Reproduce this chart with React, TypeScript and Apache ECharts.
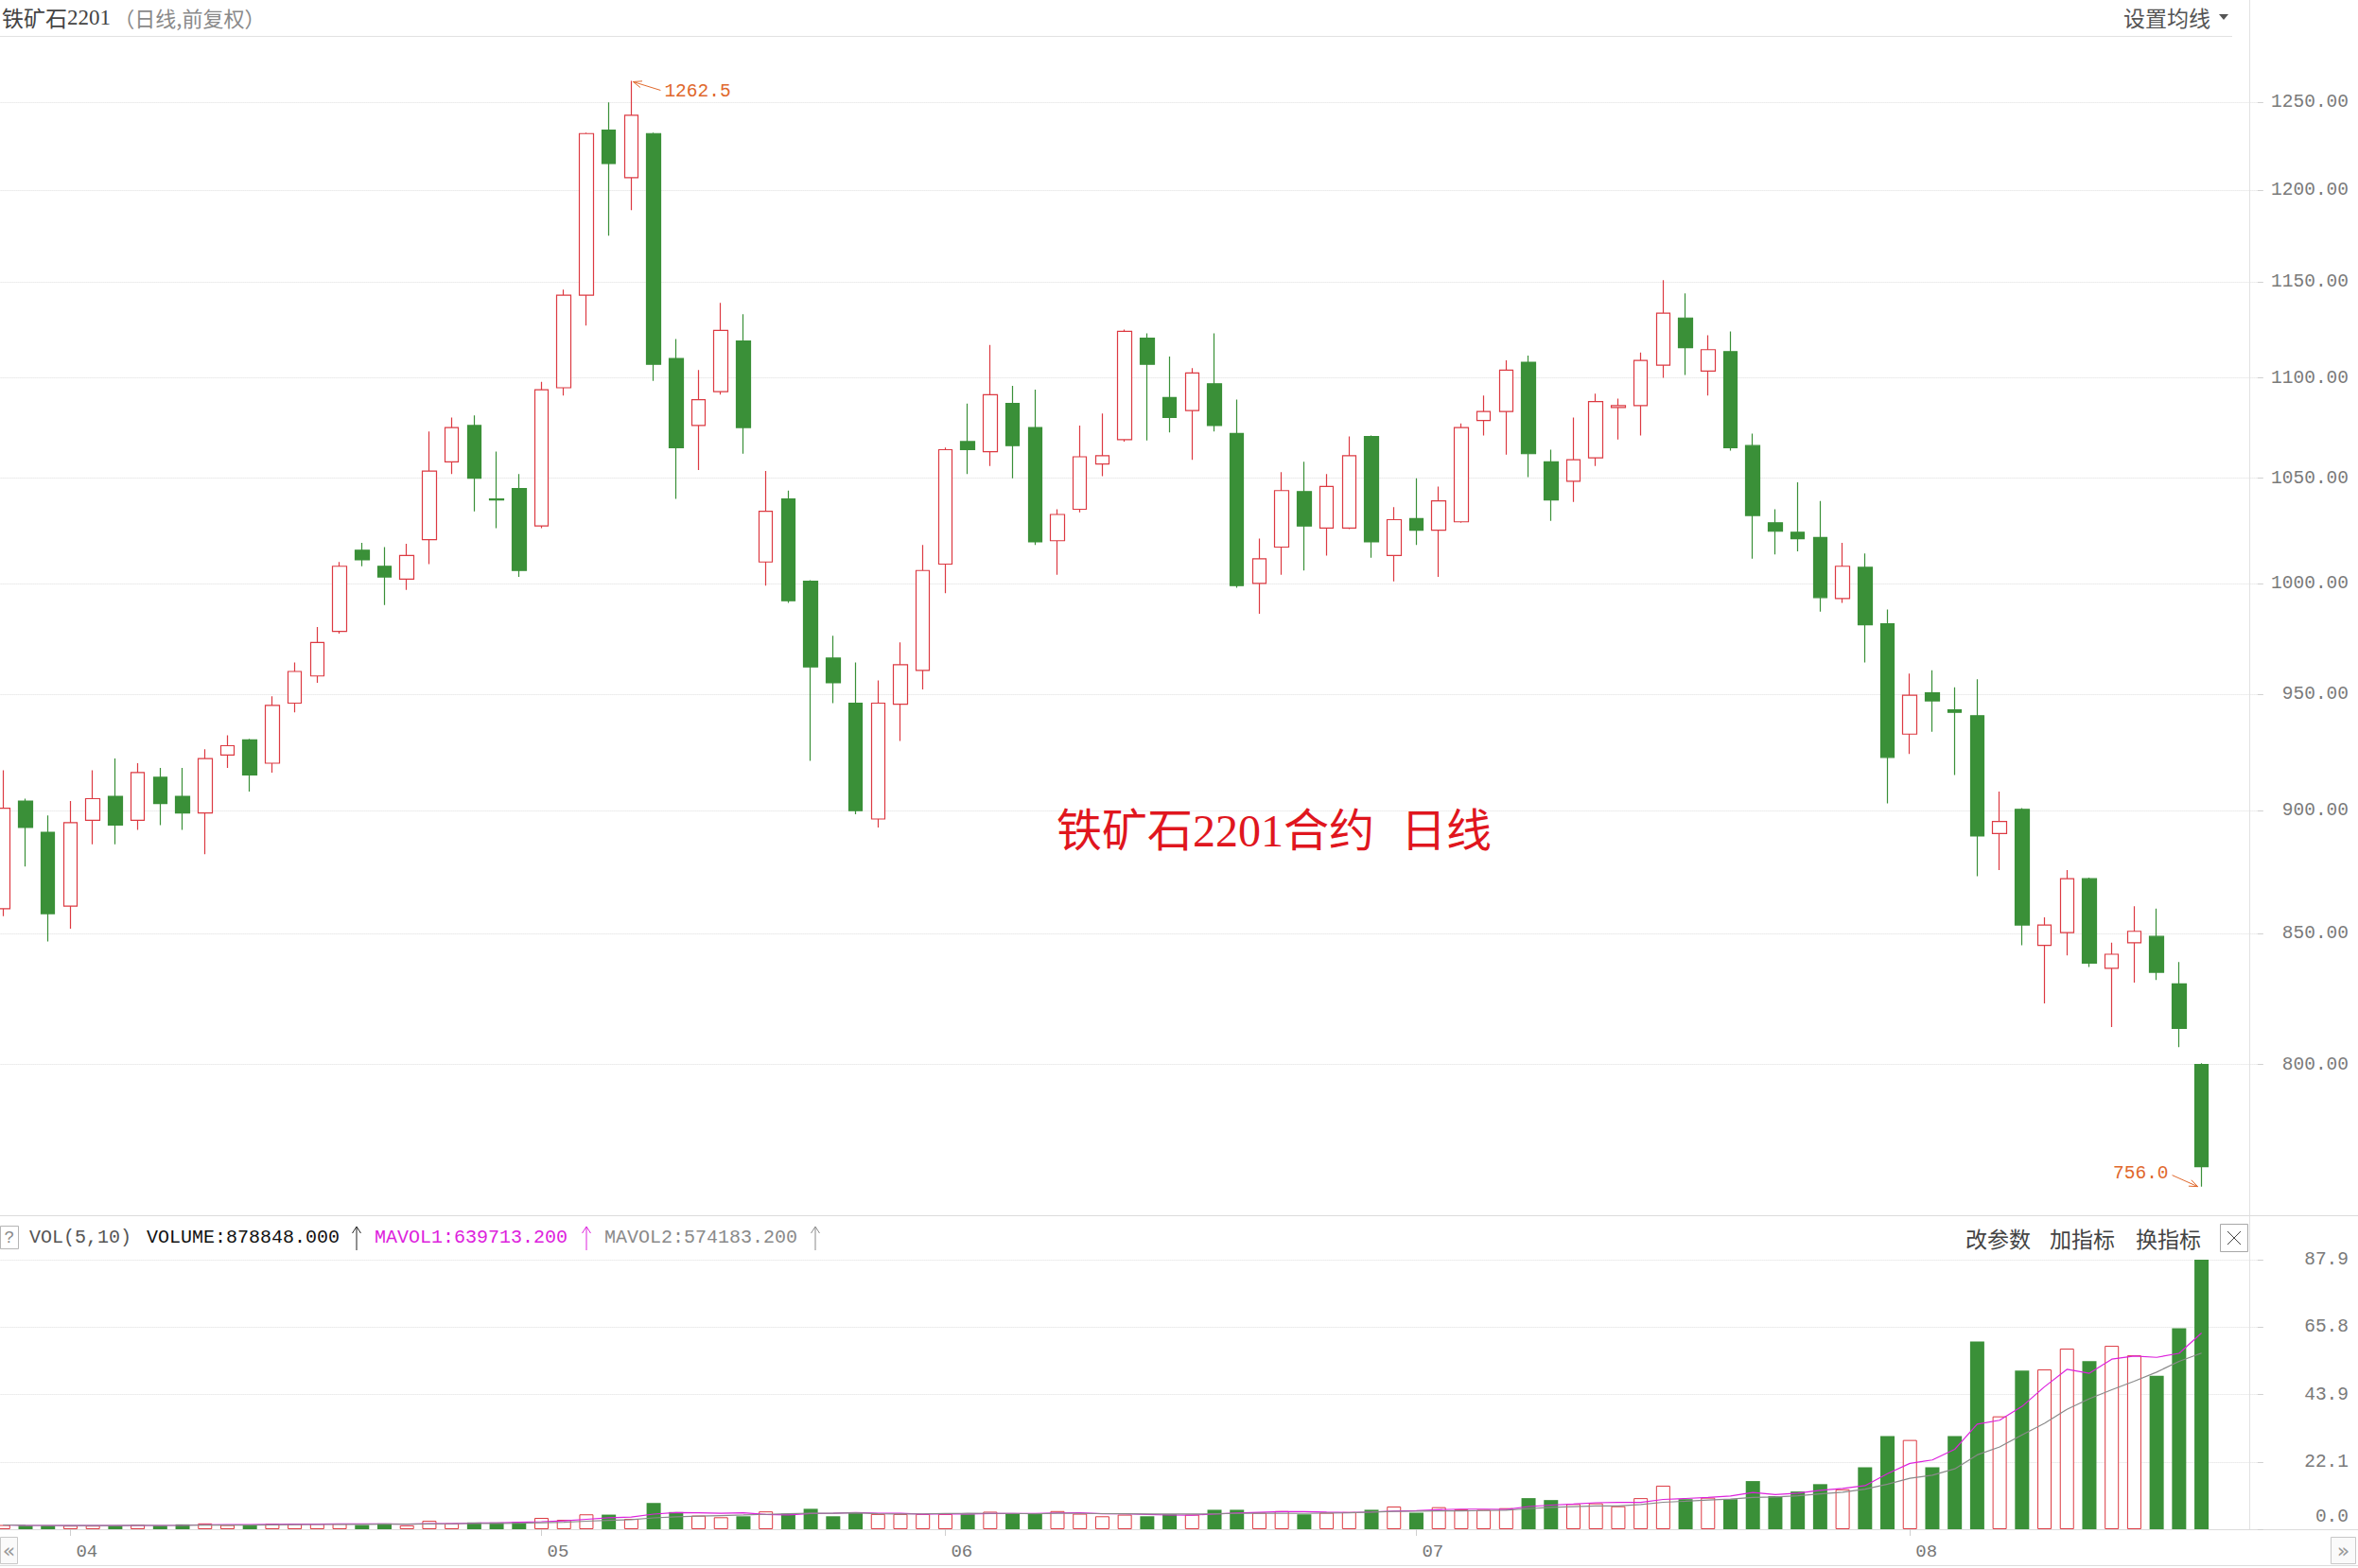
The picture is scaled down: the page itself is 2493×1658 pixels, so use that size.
import React, { useEffect, useRef } from 'react';
import * as echarts from 'echarts';

// ---------- data ----------
const dates = ['03-29', '03-30', '03-31',
  '04-01', '04-02', '04-06', '04-07', '04-08', '04-09', '04-12', '04-13', '04-14', '04-15', '04-16', '04-19', '04-20', '04-21', '04-22', '04-23', '04-26', '04-27', '04-28', '04-29', '04-30',
  '05-06', '05-07', '05-10', '05-11', '05-12', '05-13', '05-14', '05-17', '05-18', '05-19', '05-20', '05-21', '05-24', '05-25', '05-26', '05-27', '05-28', '05-31',
  '06-01', '06-02', '06-03', '06-04', '06-07', '06-08', '06-09', '06-10', '06-11', '06-15', '06-16', '06-17', '06-18', '06-21', '06-22', '06-23', '06-24', '06-25', '06-28', '06-29', '06-30',
  '07-01', '07-02', '07-05', '07-06', '07-07', '07-08', '07-09', '07-12', '07-13', '07-14', '07-15', '07-16', '07-19', '07-20', '07-21', '07-22', '07-23', '07-26', '07-27', '07-28', '07-29', '07-30',
  '08-02', '08-03', '08-04', '08-05', '08-06', '08-09', '08-10', '08-11', '08-12', '08-13', '08-16', '08-17', '08-18', '08-19'];

const opens = [860, 904, 891, 861, 896, 906, 896, 914, 906, 899,
  923.5, 930, 920, 946, 958, 978, 1015.5, 1008, 1002, 1020.5,
  1058, 1076, 1040, 1045, 1027, 1095, 1143, 1234, 1207, 1232,
  1110, 1076, 1093, 1119, 1010, 1040, 1001, 966, 946, 896.5,
  945.5, 960.5, 1009, 1068, 1063, 1087, 1075, 1020, 1035, 1057,
  1069, 1120.5, 1090, 1083.5, 1097, 1072, 1000, 1017, 1043.5, 1026,
  1026, 1070.5, 1013, 1030.5, 1025, 1029, 1078.5, 1083, 1108, 1058,
  1048.5, 1060, 1085, 1086, 1106.5, 1131, 1103.5, 1113.5, 1066, 1028.5,
  1024, 1021.5, 993, 1007.5, 981.5, 932.5, 950.5, 943, 940.5, 890.5,
  900.5, 845.5, 850.5, 872, 836.5, 846.5, 849, 830.5, 800];
const closes = [901, 893, 858, 895, 905, 894, 916, 903, 899, 922,
  927.5, 915, 945, 960, 973, 1008, 1011, 1003, 1013, 1053.5,
  1075, 1050, 1039.5, 1006, 1094, 1143, 1232, 1215, 1242.5, 1107,
  1065, 1089, 1124.5, 1075, 1034, 992, 962, 955, 900, 946,
  963, 1006, 1064, 1064, 1091.5, 1066, 1019.5, 1032.5, 1060.5, 1061,
  1124, 1107, 1080, 1102.5, 1076, 999, 1011.5, 1044, 1027, 1046,
  1061, 1019.5, 1030, 1025, 1039, 1075, 1083, 1104, 1062, 1039.5,
  1059, 1088, 1086, 1109, 1133.5, 1115.5, 1114.5, 1065, 1032, 1024.5,
  1021, 993.5, 1008, 981, 922.5, 949.5, 947, 942, 889.5, 895.5,
  853.5, 853.5, 872, 838.5, 842, 851, 835, 813.5, 763];
const lows = [857, 877, 847, 852, 886, 886, 892, 894, 892, 882,
  918, 908, 916, 942, 955, 977, 1008, 990, 997, 1009,
  1052, 1034, 1026, 1003, 1026, 1091, 1127, 1175, 1189, 1098.5,
  1040, 1054, 1091.5, 1062, 999, 991, 921, 946, 898.5, 893,
  929.5, 952, 995.5, 1052, 1056, 1050, 1018, 1004, 1033.5, 1051,
  1068, 1068.5, 1072.5, 1059, 1073, 998, 986, 1004, 1006, 1013,
  1025.5, 1012, 1001, 1018, 1003, 1028.5, 1071, 1061.5, 1050.5, 1029.5,
  1038.5, 1056, 1069, 1071, 1100, 1101.5, 1091, 1063.5, 1011.5, 1013.5,
  1015, 987, 991, 964, 903, 924, 933.5, 915, 873, 875.5,
  845.5, 823, 841.5, 837, 814, 831, 832, 806.5, 756];
const highs = [917, 905, 898, 904, 917, 922, 920, 918, 918, 926,
  932, 930.5, 949, 964, 980, 1010, 1019, 1017, 1018.5, 1073,
  1080, 1081, 1063, 1052, 1098, 1146, 1232.5, 1250, 1262.5, 1232.5,
  1120, 1104, 1139, 1133, 1053.5, 1044, 1001.5, 976, 964, 956,
  973, 1018, 1065, 1087, 1117, 1096, 1094, 1035, 1076, 1082,
  1125, 1123, 1111, 1105, 1123, 1089, 1021, 1053, 1058, 1052,
  1070.5, 1071, 1036, 1050, 1046, 1077, 1091, 1109, 1111.5, 1064,
  1080, 1092, 1089.5, 1113, 1151, 1144, 1122, 1124, 1072, 1035,
  1048, 1039, 1019, 1014, 988, 959, 960.5, 953, 956.5, 908,
  901, 856.5, 875.5, 872.5, 846.5, 861, 860, 839, 800.5];
// volume, in units of 10 000 lots
const volumes = [1.38, 1.17, 1.17, 1.17, 1.17, 1.17, 1.48, 1.17, 1.59, 1.9,
  1.38, 1.38, 1.8, 1.8, 1.8, 1.8, 1.38, 1.9, 1.27, 2.75,
  1.9, 2.22, 2.22, 2.33, 3.7, 3.07, 4.86, 4.76, 3.38, 8.56,
  5.6, 4.44, 3.91, 4.23, 5.81, 5.07, 6.66, 4.23, 5.28, 4.97,
  4.97, 4.97, 4.97, 4.86, 5.71, 5.07, 5.07, 5.92, 5.07, 4.23,
  4.76, 4.23, 4.86, 4.76, 6.34, 6.34, 5.39, 5.92, 4.86, 5.39,
  5.6, 6.34, 7.4, 5.39, 7.19, 6.45, 6.34, 6.87, 10.14, 9.51,
  8.24, 8.45, 7.5, 10.14, 14.2, 9.8, 10.3, 9.8, 15.7, 10.8,
  12.3, 14.7, 13.0, 20.2, 30.4, 29.1, 20.2, 30.4, 61.2, 36.8,
  51.7, 52.1, 58.9, 54.8, 59.8, 56.7, 50.0, 65.5, 87.8848];

const priceTicks = [800, 850, 900, 950, 1000, 1050, 1100, 1150, 1200, 1250];
const volTickLabels = ['0.0', '22.1', '43.9', '65.8', '87.9'];
const headerValues = ['878848.000', '639713.200', '574183.200'];

// ---------- style / layout ----------
const RED = '#dc3a42';
const GREEN = '#3a9038';
const MA5_COLOR = '#dd22dd';
const MA10_COLOR = '#8a8a8a';
const MONO = "'Liberation Mono', 'Noto Sans CJK SC', monospace";
const CJK = "'Noto Sans CJK SC', sans-serif";
const SERIF = "'Liberation Serif', 'Noto Sans CJK SC', serif";
const SLOT = 23.717;
const N_SLOTS = dates.length + 2;
const GRID_LEFT = 3.3 - SLOT / 2;
const GRID_WIDTH = SLOT * N_SLOTS;
const AXIS_X = GRID_LEFT + GRID_WIDTH;
const LABEL_RIGHT = 2483;
const PRICE_AXIS_MIN = 746.0;
const PRICE_AXIS_MAX = 1288.5;
const VOL_MAX = 87.8848;
const VOL_STEP = VOL_MAX / 4;

export default function App() {
  const ref = useRef<HTMLDivElement>(null);

  useEffect(() => {
    const el = ref.current;
    if (!el) return;
    const chart = echarts.init(el, null, { renderer: 'svg' });

    const cats = [...dates, ' ', '  '];
    const isUp = (i: number) =>
      closes[i] > opens[i] || (closes[i] === opens[i] && i > 0 && closes[i] >= closes[i - 1]);
    const candleData = opens.map((o, i) => [Math.log(o), Math.log(closes[i]), Math.log(lows[i]), Math.log(highs[i])]);
    const volData = volumes.map((v, i) => ({
      value: v,
      itemStyle: isUp(i)
        ? { color: '#ffffff', borderColor: RED, borderWidth: 1 }
        : { color: GREEN, borderColor: GREEN, borderWidth: 0 },
    }));
    const ma = (n: number) => volumes.map((_, i) => {
      const s = Math.max(0, i - n + 1);
      const part = volumes.slice(s, i + 1);
      return +(part.reduce((a, b) => a + b, 0) / part.length).toFixed(3);
    });
    const monthStart = (index: number) =>
      index > 0 && index < dates.length && dates[index].slice(0, 2) !== dates[index - 1].slice(0, 2);

    const gridLine = { show: true, lineStyle: { color: '#dedede', type: 'dotted' as const, width: 1 } };

    chart.setOption({
      animation: false,
      backgroundColor: '#ffffff',
      grid: [
        { left: GRID_LEFT, width: GRID_WIDTH, top: 39, height: 1246, outerBoundsMode: 'none', containLabel: false },
        { left: GRID_LEFT, width: GRID_WIDTH, top: 1332, height: 285, outerBoundsMode: 'none', containLabel: false },
      ],
      xAxis: [
        {
          type: 'category', gridIndex: 0, data: cats, boundaryGap: true,
          axisLine: { show: false }, axisTick: { show: false }, axisLabel: { show: false }, splitLine: { show: false },
        },
        {
          type: 'category', gridIndex: 1, data: cats, boundaryGap: true,
          axisLine: { show: false },
          axisTick: { show: true, alignWithLabel: true, interval: (i: number) => monthStart(i), length: 7, lineStyle: { color: '#cfcfcf' } },
          axisLabel: {
            interval: (i: number) => monthStart(i),
            formatter: (v: string) => v.slice(0, 2),
            align: 'left', margin: 14, padding: [0, 0, 0, 6],
            color: '#777', fontSize: 19, fontFamily: MONO,
          },
          splitLine: { show: false },
        },
      ],
      yAxis: [
        {
          type: 'value', gridIndex: 0, position: 'right',
          min: Math.log(PRICE_AXIS_MIN), max: Math.log(PRICE_AXIS_MAX),
          axisLine: { show: false },
          axisTick: { show: true, length: 6, customValues: priceTicks.map((p) => Math.log(p)), lineStyle: { color: '#d0d0d0' } },
          axisLabel: {
            customValues: priceTicks.map((p) => Math.log(p)),
            formatter: (v: number) => Math.exp(v).toFixed(2),
            align: 'right', margin: LABEL_RIGHT - AXIS_X,
            color: '#7a7a7a', fontSize: 19.5, fontFamily: MONO,
          },
          splitLine: gridLine,
        },
        {
          type: 'value', gridIndex: 1, position: 'right',
          min: 0, max: VOL_MAX,
          axisLine: { show: false },
          axisTick: { show: true, length: 6, customValues: [0, 1, 2, 3, 4].map((k) => k * VOL_STEP), lineStyle: { color: '#d0d0d0' } },
          axisLabel: {
            customValues: [0, 1, 2, 3, 4].map((k) => k * VOL_STEP),
            formatter: (v: number) => {
              const k = Math.round(v / VOL_STEP);
              return k === 0 ? '{z|' + volTickLabels[0] + '}' : volTickLabels[k];
            },
            rich: { z: { padding: [0, 0, 26, 0], color: '#7a7a7a', fontSize: 19.5, fontFamily: MONO } },
            align: 'right', margin: LABEL_RIGHT - AXIS_X,
            color: '#7a7a7a', fontSize: 19.5, fontFamily: MONO,
          },
          splitLine: gridLine,
        },
      ],
      series: [
        {
          type: 'candlestick', xAxisIndex: 0, yAxisIndex: 0, data: candleData, barWidth: 15,
          itemStyle: { color: '#ffffff', color0: GREEN, borderColor: RED, borderColor0: GREEN, borderColorDoji: GREEN, borderWidth: 1.2 },
        },
        {
          type: 'bar', xAxisIndex: 1, yAxisIndex: 1, data: volData, barWidth: 15,
        },
        {
          type: 'line', xAxisIndex: 1, yAxisIndex: 1, data: ma(5), showSymbol: false, symbol: 'none',
          lineStyle: { color: MA5_COLOR, width: 1.2 }, z: 5,
        },
        {
          type: 'line', xAxisIndex: 1, yAxisIndex: 1, data: ma(10), showSymbol: false, symbol: 'none',
          lineStyle: { color: MA10_COLOR, width: 1.2 }, z: 5,
        },
      ],
    });

    // ---------- decorations ----------
    const line = (x1: number, y1: number, x2: number, y2: number, stroke = '#e2e2e2') => ({
      type: 'line', silent: true, shape: { x1, y1, x2, y2 }, style: { stroke, lineWidth: 1 },
    });
    const text = (x: number, y: number, t: string, fill: string, fontSize: number, fontFamily: string, align = 'left') => ({
      type: 'text', silent: true, x, y,
      style: { text: t, fill, fontSize, fontFamily, align, verticalAlign: 'middle' },
    });
    const upArrow = (x: number, color: string) => [
      line(x, 1297, x, 1322, color),
      {
        type: 'polyline', silent: true,
        shape: { points: [[x - 4.5, 1304], [x, 1297], [x + 4.5, 1304]] },
        style: { stroke: color, lineWidth: 1, fill: 'none' },
      },
    ];

    const maxIdx = highs.indexOf(Math.max(...highs));
    const minIdx = lows.indexOf(Math.min(...lows));
    const pHigh = chart.convertToPixel({ gridIndex: 0 }, [maxIdx, Math.log(highs[maxIdx])]) as number[];
    const pLow = chart.convertToPixel({ gridIndex: 0 }, [minIdx, Math.log(lows[minIdx])]) as number[];
    const ORANGE = '#e0682c';
    const arrow = (px: number, py: number, fx: number, fy: number) => {
      const dx = px - fx, dy = py - fy;
      const len = Math.sqrt(dx * dx + dy * dy);
      const ux = dx / len, uy = dy / len;
      const bx = px - ux * 9, by = py - uy * 9;
      return [
        line(fx, fy, px, py, ORANGE),
        {
          type: 'polyline', silent: true,
          shape: { points: [[bx - uy * 3.5, by + ux * 3.5], [px, py], [bx + uy * 3.5, by - ux * 3.5]] },
          style: { stroke: ORANGE, lineWidth: 1, fill: 'none' },
        },
      ];
    };

    const graphics: any[] = [
      // frame lines
      line(0, 38.5, 2360, 38.5),
      line(2378.5, 0, 2378.5, 1618),
      line(0, 1285.5, 2493, 1285.5, '#dcdcdc'),
      line(0, 1617.5, 2493, 1617.5, '#dcdcdc'),
      line(0, 1655.5, 2493, 1655.5, '#dcdcdc'),
      // title
      {
        type: 'text', silent: true, x: 2, y: 18,
        style: {
          text: '{a|铁矿石}{b|2201} {c|（日线,前复权）}',
          verticalAlign: 'middle',
          rich: {
            a: { fontSize: 23, fontFamily: CJK, fill: '#444', color: '#444' },
            b: { fontSize: 23, fontFamily: SERIF, fill: '#444', color: '#444' },
            c: { fontSize: 22, fontFamily: CJK, fill: '#8a8a8a', color: '#8a8a8a' },
          },
        },
      },
      text(2245, 18, '设置均线', '#555', 23, CJK),
      { type: 'polygon', silent: true, shape: { points: [[2346, 15], [2356, 15], [2351, 21]] }, style: { fill: '#555' } },
      // chart caption
      text(1117, 878, '铁矿石2201合约', '#e0161e', 48, SERIF),
      text(1481, 878, '日线', '#e0161e', 48, SERIF),
      // high / low annotations
      ...arrow(pHigh[0] + 2, pHigh[1] + 1, pHigh[0] + 31, pHigh[1] + 10),
      text(pHigh[0] + 35, pHigh[1] + 12, highs[maxIdx].toFixed(1), ORANGE, 19.5, MONO),
      ...arrow(pLow[0] - 4, pLow[1], pLow[0] - 31, pLow[1] - 12),
      text(pLow[0] - 35, pLow[1] - 14, lows[minIdx].toFixed(1), ORANGE, 19.5, MONO, 'right'),
      // volume header
      { type: 'rect', silent: true, shape: { x: 0.5, y: 1296.5, width: 19, height: 24 }, style: { stroke: '#b5b5b5', fill: 'none', lineWidth: 1 } },
      text(10, 1308.5, '?', '#888', 18, MONO, 'center'),
      text(31, 1308.5, 'VOL(5,10)', '#555', 20, MONO),
      text(155, 1308.5, 'VOLUME:' + headerValues[0], '#111', 20, MONO),
      ...upArrow(377, '#222'),
      text(396, 1308.5, 'MAVOL1:' + headerValues[1], MA5_COLOR, 20, MONO),
      ...upArrow(620, MA5_COLOR),
      text(639, 1308.5, 'MAVOL2:' + headerValues[2], MA10_COLOR, 20, MONO),
      ...upArrow(862, MA10_COLOR),
      text(2078, 1308.5, '改参数', '#444', 23, CJK),
      text(2167, 1308.5, '加指标', '#444', 23, CJK),
      text(2258, 1308.5, '换指标', '#444', 23, CJK),
      { type: 'rect', silent: true, shape: { x: 2347.5, y: 1294.5, width: 29, height: 29 }, style: { stroke: '#a8a8a8', fill: 'none', lineWidth: 1 } },
      line(2355, 1302, 2369, 1316, '#444'),
      line(2369, 1302, 2355, 1316, '#444'),
      // scroll buttons
      { type: 'rect', silent: true, shape: { x: 0.5, y: 1625.5, width: 18, height: 28 }, style: { stroke: '#c8c8c8', fill: '#fafafa', lineWidth: 1 } },
      text(9.5, 1639.5, '«', '#999', 22, "'DejaVu Sans'", 'center'),
      { type: 'rect', silent: true, shape: { x: 2464.5, y: 1625.5, width: 26, height: 28 }, style: { stroke: '#c8c8c8', fill: '#fafafa', lineWidth: 1 } },
      text(2477.5, 1639.5, '»', '#999', 22, "'DejaVu Sans'", 'center'),
    ];

    chart.setOption({ graphic: graphics });

    return () => chart.dispose();
  }, []);

  return (
    <div
      ref={ref}
      style={{ position: 'fixed', left: 0, top: 0, width: 2493, height: 1658, background: '#ffffff' }}
    />
  );
}
